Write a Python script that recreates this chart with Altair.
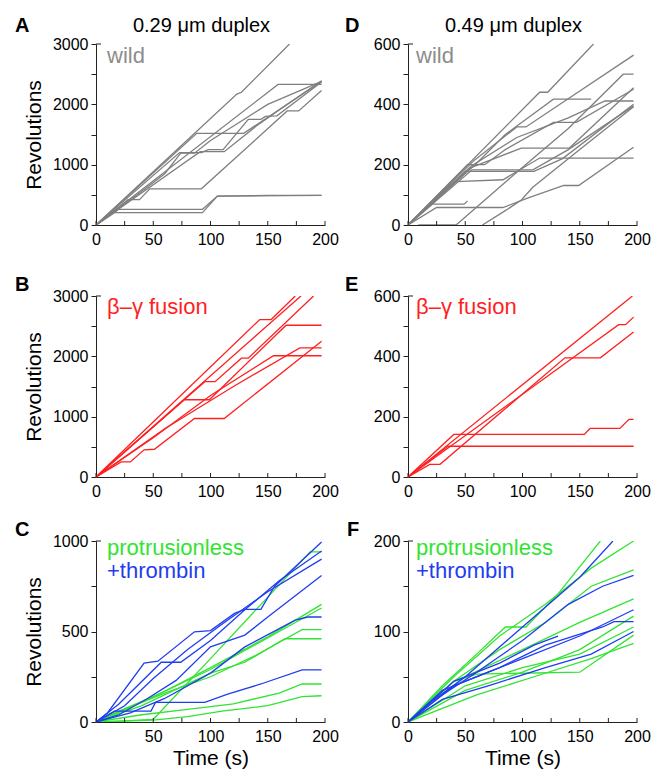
import altair as alt
import pandas as pd

FONT = "Liberation Sans"
AXIS_COLOR = "#222222"
GRAY = "#7f7f7f"
GRAY_TEXT = "#8c8c8c"
RED = "#ff1f1f"
GREEN = "#33e333"
BLUE = "#1f3df0"

# ---- traces: (time s, revolutions) breakpoints ----
A_WILD = [
    [(0, 0), (123, 2170), (127, 2200), (169, 3000)],
    [(0, 0), (159, 2330), (197, 2330)],
    [(0, 0), (88, 1520), (129, 1520), (197, 2380)],
    [(0, 0), (28, 420), (38, 420), (47, 600), (92, 600), (167, 1890), (177, 1890), (197, 2230)],
    [(0, 0), (73, 1200), (92, 1200), (98, 1250), (111, 1250), (133, 1750), (144, 1750), (148, 1800), (158, 1810), (197, 2370)],
    [(0, 0), (91, 1215), (112, 1215), (140, 1640), (170, 2040), (197, 2390)],
    [(0, 0), (40, 560), (60, 850), (74, 1190), (86, 1190), (100, 1400), (125, 1700), (150, 2000), (197, 2380)],
    [(0, 0), (20, 260), (93, 260), (106, 480), (150, 490), (197, 490)],
    [(0, 0), (16, 205), (93, 205), (106, 480), (197, 490)],
]

D_WILD = [
    [(0, 0), (115, 440), (122, 440), (162, 600)],
    [(0, 0), (58, 215), (95, 325), (103, 325), (197, 563)],
    [(0, 0), (60, 205), (85, 300), (127, 417), (160, 417)],
    [(0, 0), (55, 195), (95, 290), (140, 355), (172, 411), (197, 411)],
    [(0, 0), (55, 190), (99, 255), (141, 255), (197, 455)],
    [(0, 0), (52, 200), (67, 200), (85, 250), (127, 340), (147, 340), (197, 450)],
    [(0, 0), (56, 183), (109, 183), (140, 250), (197, 395)],
    [(0, 0), (50, 178), (110, 178), (135, 220), (197, 400)],
    [(0, 0), (42, 144), (83, 150), (115, 222), (197, 222)],
    [(0, 0), (21, 69), (49, 69), (52, 80)],
    [(0, 0), (25, 58), (83, 58), (105, 90), (136, 131), (149, 131), (197, 258)],
    [(9, 0), (42, 0), (95, 175), (140, 320), (188, 500), (197, 500)],
    [(65, 0), (86, 50), (99, 83), (109, 125), (150, 250), (197, 392)],
]

B_FUSION = [
    [(0, 0), (143, 2610), (153, 2610), (174, 3000)],
    [(0, 0), (179, 3000)],
    [(0, 0), (95, 1580), (104, 1580), (127, 1970), (133, 1970), (190, 3000)],
    [(0, 0), (77, 1280), (99, 1280), (166, 2515), (197, 2515)],
    [(0, 0), (22, 250), (30, 250), (42, 450), (51, 460), (86, 970), (112, 970), (197, 2250)],
    [(0, 0), (60, 800), (120, 1500), (178, 2140), (197, 2140)],
    [(0, 0), (50, 650), (100, 1350), (155, 2010), (197, 2010)],
]

E_FUSION = [
    [(0, 0), (196, 600)],
    [(0, 0), (184, 505), (190, 505), (197, 530)],
    [(0, 0), (19, 42), (28, 42), (137, 395), (168, 395), (197, 481)],
    [(0, 0), (40, 141), (154, 141), (159, 161), (185, 161), (193, 191), (197, 191)],
    [(0, 0), (35, 102), (197, 102)],
]

C_GREEN = [
    [(0, 0), (20, 5), (50, 15), (100, 350), (150, 690), (187, 940), (197, 940)],
    [(0, 0), (30, 80), (60, 170), (100, 300), (150, 470), (197, 650)],
    [(0, 0), (20, 60), (50, 140), (100, 290), (160, 500), (197, 630)],
    [(0, 0), (25, 70), (60, 160), (100, 250), (140, 370), (180, 510), (197, 510)],
    [(0, 0), (40, 90), (70, 180), (100, 270), (130, 330), (165, 460), (197, 460)],
    [(0, 0), (40, 40), (80, 70), (120, 100), (160, 160), (180, 210), (197, 210)],
    [(0, 0), (50, 10), (80, 30), (110, 60), (150, 90), (180, 140), (197, 145)],
]

C_BLUE = [
    [(0, 0), (10, 50), (42, 325), (54, 336), (86, 498), (100, 505), (121, 600), (130, 622), (144, 622), (156, 750), (197, 995)],
    [(0, 0), (20, 100), (57, 330), (74, 330), (100, 450), (130, 620), (160, 780), (197, 945)],
    [(0, 0), (25, 90), (50, 240), (80, 400), (110, 540), (150, 720), (197, 900)],
    [(0, 0), (20, 40), (45, 130), (70, 230), (100, 415), (130, 480), (150, 580), (197, 810)],
    [(0, 0), (30, 50), (60, 130), (100, 270), (130, 415), (174, 563), (185, 580), (197, 580)],
    [(0, 0), (16, 60), (48, 60), (52, 108), (95, 108), (115, 154), (144, 210), (180, 288), (197, 288)],
]

F_GREEN = [
    [(0, 0), (30, 40), (60, 75), (85, 105), (103, 105), (130, 140), (168, 200)],
    [(0, 0), (40, 50), (80, 95), (120, 130), (160, 170), (197, 200)],
    [(0, 0), (40, 45), (80, 80), (120, 110), (160, 150), (197, 168)],
    [(0, 0), (50, 50), (100, 80), (150, 110), (197, 136)],
    [(0, 0), (40, 45), (60, 53), (150, 55), (197, 96)],
    [(0, 0), (50, 35), (100, 55), (150, 80), (197, 117)],
    [(0, 0), (50, 40), (100, 60), (150, 75), (197, 105)],
    [(0, 0), (20, 10), (60, 30), (110, 50), (160, 70), (197, 87)],
]

F_BLUE = [
    [(0, 0), (20, 22), (50, 50), (100, 105), (150, 160), (179, 200)],
    [(0, 0), (30, 30), (60, 55), (100, 90), (140, 130), (170, 150), (197, 162)],
    [(0, 0), (30, 35), (70, 55), (100, 70), (150, 95), (197, 124)],
    [(0, 0), (40, 40), (80, 60), (120, 85), (170, 105), (180, 111), (197, 111)],
    [(0, 0), (30, 25), (70, 40), (120, 60), (160, 75), (197, 100)],
    [(0, 0), (40, 45), (80, 65), (110, 85), (131, 95)],
]

X_TICKS = [0, 25, 50, 75, 100, 125, 150, 175, 200]
X_LABELS = [0, 50, 100, 150, 200]
X_LABELS_C = [50, 100, 150, 200]
Y_TICKS_3000 = [0, 500, 1000, 1500, 2000, 2500, 3000]
Y_TICKS_600 = [0, 100, 200, 300, 400, 500, 600]
Y_TICKS_1000 = [0, 250, 500, 750, 1000]
Y_TICKS_200 = [0, 50, 100, 150, 200]

W, H = 229, 181


def to_df(traces, name):
    rows = []
    for i, tr in enumerate(traces):
        for j, (t, r) in enumerate(tr):
            rows.append({"t": t, "rev": r, "trace": f"{name}{i}", "idx": j})
    return pd.DataFrame(rows)


def text_layer(s, x, y, size, color, weight="normal", align="left"):
    return alt.Chart(pd.DataFrame({"s": [s]})).mark_text(
        font=FONT, fontSize=size, color=color, fontWeight=weight,
        align=align, baseline="alphabetic"
    ).encode(text="s:N", x=alt.value(x), y=alt.value(y))


def panel(series, yticks, ylab_step, xlabels, letter, letter_x, letter_y,
          notes, title=None, ytitle=None, xtitle=None):
    ymax = yticks[-1]
    xs = alt.Scale(domain=[0, 200], nice=False, zero=False)
    ys = alt.Scale(domain=[0, ymax], nice=False)
    xaxis = alt.Axis(values=xlabels, format="d", ticks=False, labelPadding=6,
                     labelFlush=False, labelOverlap=False, grid=False,
                     title=xtitle, titlePadding=3)
    yaxis = alt.Axis(values=yticks, format="d", tickSize=5, labelPadding=3,
                     labelExpr=f"datum.value % {ylab_step} === 0 ? datum.label : ''",
                     labelOverlap=False, grid=False, title=ytitle, titlePadding=8)
    xenc = alt.X("t:Q", scale=xs, axis=xaxis)
    yenc = alt.Y("rev:Q", scale=ys, axis=yaxis)
    layers = []
    for k, (traces, color) in enumerate(series):
        df = to_df(traces, f"s{k}_")
        layers.append(
            alt.Chart(df).mark_line(color=color, strokeWidth=1.3, clip=True).encode(
                x=xenc, y=yenc, detail="trace:N", order="idx:Q"
            )
        )
    ticks = alt.Chart(pd.DataFrame({"t": X_TICKS})).mark_rule(
        color=AXIS_COLOR, strokeWidth=1
    ).encode(x=xenc, y=alt.value(H), y2=alt.value(H - 4))
    layers.append(ticks)
    top_tick = alt.Chart(pd.DataFrame({"a": [0]})).mark_rule(
        color=AXIS_COLOR, strokeWidth=1
    ).encode(x=alt.value(0), x2=alt.value(5), y=alt.value(0))
    layers.append(top_tick)
    layers.append(text_layer(letter, letter_x, letter_y, 20, "black", weight="bold"))
    if title:
        layers.append(text_layer(title, W / 2 - 9, -12, 20, "black", align="center"))
    for (s, x, y, c) in notes:
        layers.append(text_layer(s, x, y, 22, c))
    return alt.layer(*layers).properties(width=W, height=H)


pA = panel([(A_WILD, GRAY)], Y_TICKS_3000, 1000, X_LABELS, "A", -81, -12,
           [("wild", 11, 19, GRAY_TEXT)], title="0.29 μm duplex", ytitle="Revolutions")
pD = panel([(D_WILD, GRAY)], Y_TICKS_600, 200, X_LABELS, "D", -63, -12,
           [("wild", 8, 19, GRAY_TEXT)], title="0.49 μm duplex")
pB = panel([(B_FUSION, RED)], Y_TICKS_3000, 1000, X_LABELS, "B", -81, -5,
           [("β–γ fusion", 11, 18, RED)], ytitle="Revolutions")
pE = panel([(E_FUSION, RED)], Y_TICKS_600, 200, X_LABELS, "E", -63, -5,
           [("β–γ fusion", 8, 18, RED)])
pC = panel([(C_GREEN, GREEN), (C_BLUE, BLUE)], Y_TICKS_1000, 500, X_LABELS_C, "C", -81, -5,
           [("protrusionless", 11, 14, GREEN), ("+thrombin", 11, 37, BLUE)],
           ytitle="Revolutions", xtitle="Time (s)")
pF = panel([(F_GREEN, GREEN), (F_BLUE, BLUE)], Y_TICKS_200, 100, X_LABELS, "F", -61, -5,
           [("protrusionless", 8, 14, GREEN), ("+thrombin", 8, 37, BLUE)],
           xtitle="Time (s)")

row1 = alt.hconcat(pA, pD, spacing=83, bounds="flush")
row2 = alt.hconcat(pB, pE, spacing=83, bounds="flush")
row3 = alt.hconcat(pC, pF, spacing=83, bounds="flush")
top = alt.vconcat(row1, row2, spacing=28)
chart = alt.vconcat(top, row3, spacing=21).properties(
    padding={"left": 15, "top": 16, "right": 5, "bottom": 5},
    background="white",
).configure_view(stroke=None).configure_axis(
    labelFont=FONT, labelFontSize=16, labelColor="black",
    titleFont=FONT, titleFontSize=21, titleFontWeight="normal", titleColor="black",
    domainColor=AXIS_COLOR, tickColor=AXIS_COLOR, domainWidth=1, tickWidth=1,
)

chart.save("out.html", embed_options={"renderer": "svg", "actions": False})
